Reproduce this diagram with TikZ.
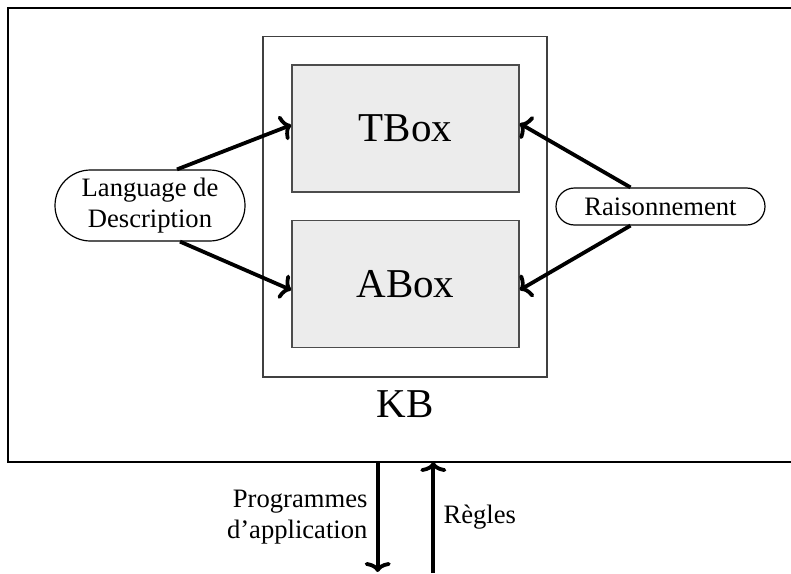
\documentclass[tikz,border=0pt]{standalone}
\usepackage{fontspec}
\setmainfont{Liberation Serif}
\usepackage{tikz}
\usetikzlibrary{positioning,arrows.meta,calc,shapes.misc}
\tikzset{
  kbdiag/.style={>={Computer Modern Rightarrow[length=5pt,width=13pt]},
    x=0.5pt,y=-0.5pt,
    semithick},
  bigtext/.style={font=\fontsize{20.5}{24}\selectfont},
  smalltext/.style={font=\fontsize{13.3}{15.5}\selectfont},
  boxpart/.style={rectangle,draw=black!70,line width=0.8pt,fill=gray!15,
    minimum width=113.5pt,minimum height=63.5pt,inner sep=0pt,bigtext},
  kbframe/.style={rectangle,draw=black!75,line width=0.6pt,
    minimum width=142pt,minimum height=170.25pt,inner sep=0pt},
  bubble/.style={rounded rectangle,draw,line width=0.6pt,inner sep=0pt,
    align=center,smalltext},
  flow/.style={->,line width=1.9pt},
  phantom/.style={rectangle,inner sep=0pt,draw=none,fill=none}
}
\begin{document}
\begin{tikzpicture}[kbdiag]
      \useasboundingbox (0,0) rectangle (791,573);
      \draw[line width=0.6pt] (820,462) -- (8,462) -- (8,8) -- (820,8);
      \node[kbframe] (kb) at (405,206.75) {};
      \node[boxpart] (tbox) at (405.5,128.5) {TBox};
      \node[boxpart] (abox) at (405.5,284) {ABox};
      \node[phantom,bigtext] (kblabel) [below=6pt of kb.south] {KB};
      \node[bubble,minimum width=95pt,minimum height=35.5pt] (lang) at (150,205.5)
        {Language de\\Description};
      \node[bubble,minimum width=104.5pt,minimum height=18.5pt] (rais) at (660.5,206.5)
        {Raisonnement};
      \draw[flow] ($(lang.north)+(27,0)$) to ($(tbox.west)+(0,-3.5)$);
      \draw[flow] ($(lang.south)+(30,0)$) to ($(abox.west)+(0,6)$);
      \draw[flow] ($(rais.north)+(-30,0)$) to ($(tbox.east)+(0,-5)$);
      \draw[flow] ($(rais.south)+(-30,0)$) to ($(abox.east)+(0,6)$);
      \coordinate (outA) at (377.7,462);
      \coordinate (outB) at (433.3,462);
      \coordinate (endA) at (377.7,572);
      \coordinate (endB) at (433.3,573);
      \draw[flow] (outA) to (endA);
      \draw[flow] (endB) to (outB);
      \node[phantom,smalltext,align=right,anchor=east] (prog) at (368,517)
        {Programmes\\d'application};
      \node[phantom,smalltext,anchor=west] (regles) at (443,517) {Règles};
%     \draw (lang) -- (kb);
    \end{tikzpicture}
\end{document}
